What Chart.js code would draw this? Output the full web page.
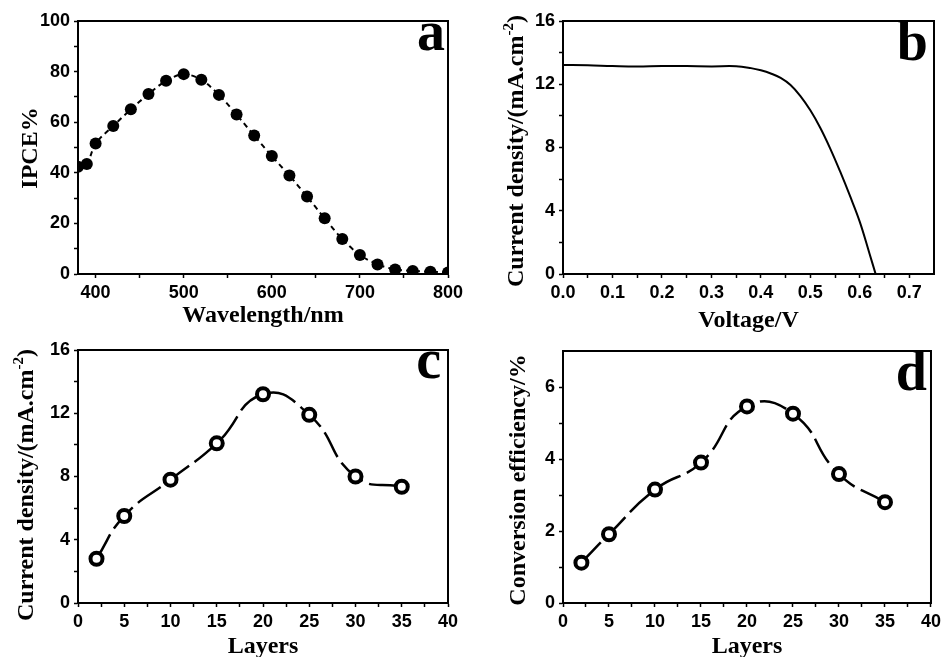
<!DOCTYPE html>
<html>
<head>
<meta charset="utf-8">
<script src="https://cdn.jsdelivr.net/npm/chart.js@4.4.1/dist/chart.umd.min.js"></script>
<style>
  body { margin: 0; background: #fff; width: 945px; height: 657px; position: relative; overflow: hidden; }
  canvas { position: absolute; left: 0; top: 0; }
</style>
</head>
<body>
<canvas id="chartA" width="945" height="657"></canvas>
<canvas id="chartB" width="945" height="657"></canvas>
<canvas id="chartC" width="945" height="657"></canvas>
<canvas id="chartD" width="945" height="657"></canvas>
<script>
// panel a: IPCE spectrum
const wavelength = [380, 390, 400, 420, 440, 460, 480, 500, 520, 540, 560, 580, 600, 620, 640, 660, 680, 700, 720, 740, 760, 780, 800];
const ipce = [42.4, 43.5, 51.6, 58.5, 65.1, 71.1, 76.4, 79.0, 76.8, 70.8, 63.0, 54.7, 46.6, 38.9, 30.6, 22.0, 13.8, 7.5, 3.8, 1.8, 1.2, 0.9, 0.6];

// panel b: J-V curve
const voltage = [0, 0.05, 0.1, 0.15, 0.2, 0.25, 0.3, 0.35, 0.38, 0.4, 0.42, 0.44, 0.46, 0.48, 0.5, 0.52, 0.54, 0.56, 0.58, 0.6, 0.62, 0.632];
const currentJV = [13.22, 13.2, 13.15, 13.12, 13.16, 13.15, 13.13, 13.14, 13.02, 12.88, 12.68, 12.4, 11.95, 11.25, 10.35, 9.25, 7.95, 6.5, 4.95, 3.3, 1.25, 0];

// panels c, d: vs number of layers
const layers = [2, 5, 10, 15, 20, 25, 30, 35];
const currentLayers = [2.8, 5.5, 7.8, 10.1, 13.2, 11.9, 8.0, 7.35];
const efficiency = [1.12, 1.91, 3.15, 3.9, 5.46, 5.26, 3.58, 2.8];

// tick labels (major) and minor tick positions
const wlMajor = [400, 500, 600, 700, 800];
const wlMinor = [450, 550, 650, 750];
const ipceMajor = [0, 20, 40, 60, 80, 100];
const ipceMinor = [10, 30, 50, 70, 90];
const vMajor = [0, 0.1, 0.2, 0.3, 0.4, 0.5, 0.6, 0.7];
const vMinor = [0.05, 0.15, 0.25, 0.35, 0.45, 0.55, 0.65];
const jMajor = [0, 4, 8, 12, 16];
const jMinor = [2, 6, 10, 14];
const layerMajor = [0, 5, 10, 15, 20, 25, 30, 35, 40];
const layerMinor = [2.5, 7.5, 12.5, 17.5, 22.5, 27.5, 32.5, 37.5];
const effMajor = [0, 2, 4, 6];
const effMinor = [1, 3, 5];

const tickFont = { family: "'Liberation Sans', Arial, sans-serif", size: 18, weight: "bold" };
const titleFont = "bold 24px 'Liberation Serif', 'Times New Roman', serif";
const supFont = "bold 15px 'Liberation Serif', 'Times New Roman', serif";
const letterFont = "bold 56px 'Liberation Serif', 'Times New Roman', serif";

function makeAxis(min, max, major, minor, fmt, isX, fitSize) {
  return {
    type: "linear",
    min: min,
    max: max,
    afterBuildTicks: (s) => {
      s.ticks = major.concat(minor).sort((a, b) => a - b).map((v) => ({ value: v }));
    },
    afterFit: (s) => {
      if (isX) s.height = fitSize;
      else s.width = fitSize;
    },
    ticks: {
      autoSkip: false,
      maxRotation: 0,
      color: "#000",
      font: tickFont,
      padding: isX ? 4 : 4,
      callback: (v) => (major.includes(v) ? fmt(v) : ""),
    },
    grid: { drawOnChartArea: false, drawTicks: true, tickLength: 4, color: "#000", tickWidth: 1.5 },
    border: { display: true, color: "#000", width: 2 },
  };
}

// frame, panel letter and axis titles
const decor = {
  id: "decor",
  afterDraw: (chart, args, o) => {
    const { ctx, chartArea: a } = chart;
    ctx.save();
    ctx.strokeStyle = "#000";
    ctx.lineWidth = 2;
    ctx.strokeRect(a.left, a.top, a.right - a.left, a.bottom - a.top);
    ctx.fillStyle = "#000";
    ctx.font = letterFont;
    ctx.textAlign = "right";
    ctx.textBaseline = "alphabetic";
    ctx.fillText(o.letter, o.letterX, o.letterY);
    ctx.font = titleFont;
    ctx.textAlign = "center";
    ctx.fillText(o.xTitle, (a.left + a.right) / 2, o.xTitleY);
    // y title, rotated, with optional superscript
    ctx.translate(o.yTitleX, o.yTitleCY);
    ctx.rotate(-Math.PI / 2);
    ctx.textAlign = "left";
    let total = 0;
    o.yTitle.forEach((p) => {
      ctx.font = p.sup ? supFont : titleFont;
      total += ctx.measureText(p.text).width;
    });
    let x = -total / 2;
    o.yTitle.forEach((p) => {
      ctx.font = p.sup ? supFont : titleFont;
      ctx.fillText(p.text, x, p.sup ? -10 : 0);
      x += ctx.measureText(p.text).width;
    });
    ctx.restore();
  },
};

function makeChart(id, cfg) {
  const box = cfg.box; // [left, top, right, bottom] of plot area
  return new Chart(document.getElementById(id), {
    type: "line",
    data: {
      datasets: [cfg.dataset],
    },
    options: {
      responsive: false,
      animation: false,
      layout: { padding: { left: 0, top: box[1], right: 945 - box[2], bottom: 657 - box[3] - 40 } },
      plugins: { legend: { display: false }, tooltip: { enabled: false }, decor: cfg.decor },
      scales: {
        x: makeAxis(cfg.x[0], cfg.x[1], cfg.x[2], cfg.x[3], cfg.x[4], true, 40),
        y: makeAxis(cfg.y[0], cfg.y[1], cfg.y[2], cfg.y[3], cfg.y[4], false, box[0]),
      },
    },
    plugins: [decor],
  });
}

const pts = (xs, ys) => xs.map((x, i) => ({ x: x, y: ys[i] }));
const openCircle = {
  borderColor: "#000",
  backgroundColor: "#fff",
  pointRadius: 6,
  pointBorderWidth: 4,
  pointBackgroundColor: "#fff",
  pointBorderColor: "#000",
  borderWidth: 2.5,
  borderDash: [28, 7],
  tension: 0.5,
};

makeChart("chartA", {
  box: [78, 21, 448, 274],
  dataset: {
    data: pts(wavelength, ipce),
    borderColor: "#000",
    borderWidth: 2,
    borderDash: [5, 4],
    tension: 0.3,
    pointRadius: 6,
    pointBorderWidth: 0,
    pointBackgroundColor: "#000",
  },
  x: [380, 800, wlMajor, wlMinor, (v) => String(v)],
  y: [0, 100, ipceMajor, ipceMinor, (v) => String(v)],
  decor: {
    letter: "a", letterX: 445, letterY: 50,
    xTitle: "Wavelength/nm", xTitleY: 322,
    yTitle: [{ text: "IPCE%" }], yTitleX: 37, yTitleCY: 148,
  },
});

makeChart("chartB", {
  box: [563, 21, 934, 274],
  dataset: {
    data: pts(voltage, currentJV),
    borderColor: "#000",
    borderWidth: 2,
    tension: 0.4,
    pointRadius: 0,
  },
  x: [0, 0.75, vMajor, vMinor, (v) => v.toFixed(1)],
  y: [0, 16, jMajor, jMinor, (v) => String(v)],
  decor: {
    letter: "b", letterX: 928, letterY: 60,
    xTitle: "Voltage/V", xTitleY: 327,
    yTitle: [{ text: "Current density/(mA.cm" }, { text: "-2", sup: true }, { text: ")" }], yTitleX: 523, yTitleCY: 151,
  },
});

makeChart("chartC", {
  box: [78, 350, 448, 603],
  dataset: Object.assign({ data: pts(layers, currentLayers) }, openCircle),
  x: [0, 40, layerMajor, layerMinor, (v) => String(v)],
  y: [0, 16, jMajor, jMinor, (v) => String(v)],
  decor: {
    letter: "c", letterX: 441, letterY: 378,
    xTitle: "Layers", xTitleY: 653,
    yTitle: [{ text: "Current density/(mA.cm" }, { text: "-2", sup: true }, { text: ")" }], yTitleX: 33, yTitleCY: 485,
  },
});

makeChart("chartD", {
  box: [563, 351, 934, 603],
  dataset: Object.assign({ data: pts(layers, efficiency) }, openCircle),
  x: [0, 40, layerMajor, layerMinor, (v) => String(v)],
  y: [0, 7, effMajor, effMinor, (v) => String(v)],
  decor: {
    letter: "d", letterX: 927, letterY: 390,
    xTitle: "Layers", xTitleY: 653,
    yTitle: [{ text: "Conversion efficiency/%" }], yTitleX: 525, yTitleCY: 480,
  },
});
</script>
</body>
</html>
